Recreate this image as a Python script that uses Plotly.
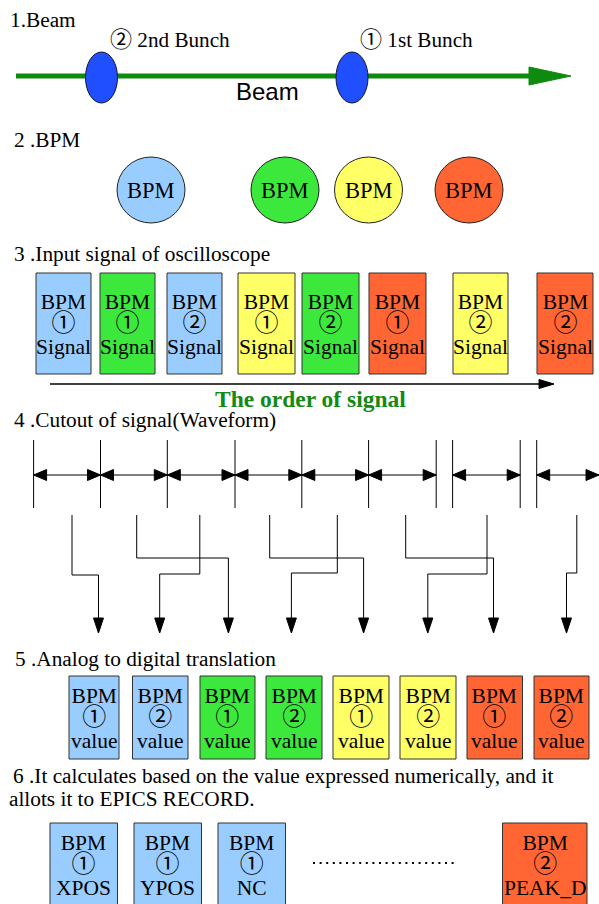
import plotly.graph_objects as go

W, H = 599, 904
SERIF = "Liberation Serif, Times New Roman, Noto Sans CJK JP, serif"
SANS = "Liberation Sans, Arial, sans-serif"
CJK = "Noto Sans CJK JP"

# ---------------- content (labels / colours) ----------------
headings = [
    "1.Beam",
    "2 .BPM",
    "3 .Input signal of oscilloscope",
    "4 .Cutout of signal(Waveform)",
    "5 .Analog to digital translation",
    "6 .It calculates based on the value expressed numerically, and it",
    "allots it to EPICS RECORD.",
]
bunch_marks = ["②", "①"]
bunch_labels = ["2nd Bunch", "1st Bunch"]
beam_label = "Beam"
order_label = "The order of signal"

bpm_palette = ["#99ccff", "#3de83d", "#ffff66", "#ff6633"]

# section 3: input signal order (bpm index, bunch mark)
signal_bpm = [0, 1, 0, 2, 1, 3, 2, 3]
signal_mark = ["①", "①", "②", "①", "②", "①", "②", "②"]
signal_word = "Signal"

# section 5: digital values
value_bpm = [0, 0, 1, 1, 2, 2, 3, 3]
value_mark = ["①", "②", "①", "②", "①", "②", "①", "②"]
value_word = "value"

# section 6: EPICS records
record_bpm = [0, 0, 0, 3]
record_mark = ["①", "①", "①", "②"]
record_name = ["XPOS", "YPOS", "NC", "PEAK_D"]

# ---------------- geometry (pixel layout) ----------------
heading_xy = [(8, 20), (12, 140), (12, 254), (12, 420), (13, 659), (11, 776), (7, 799)]

beam_y, beam_x0, beam_x1, beam_tip = 76, 16, 531, 571
bunch_cx = [101.5, 352]
bunch_label_x = [108, 358]
bpm_circle_cx = [151, 285, 368.5, 469]

sig_x = [(36, 91), (100, 155), (167, 222), (238, 295), (302, 359), (369, 426), (453, 508), (537, 593)]
sig_y = (273, 374)

cut_lines = [33.6, 100.5, 167.3, 235, 301.8, 368.6, 436.2, 452.6, 520.2, 536.7]
cut_segments = [(33.6, 100.5), (100.5, 167.3), (167.3, 235), (235, 301.8), (301.8, 368.6),
                (368.6, 436.2), (452.6, 520.2), (536.7, 599)]
routes = [(72, 575, 98.5), (136.7, 558, 228.4), (199.8, 574, 159.7), (269.7, 558, 363.6),
          (337.3, 573, 291.4), (405.7, 558, 493.5), (487, 574, 427.8), (576.8, 573, 566.5)]

val_x = [(69, 119), (132.5, 188), (200, 255), (266, 322), (333, 389), (400, 456), (467, 522.5), (534, 589)]
val_y = (676, 759)

rec_x = [(50, 117.5), (134, 201.5), (218, 285.5), (502.5, 587)]
rec_y = (823, 910)

fig = go.Figure()
fig.add_trace(go.Scatter(x=[0, W], y=[0, H], mode="markers", marker=dict(opacity=0),
                         hoverinfo="skip", showlegend=False))

shapes = []
ann = []


def text(x, y, s, size=21.5, xanchor="left", font=SERIF, color="black", bold=False):
    if bold:
        s = "<b>" + s + "</b>"
    ann.append(dict(x=x, y=y, xref="x", yref="y", text=s, showarrow=False,
                    xanchor=xanchor, yanchor="middle",
                    font=dict(family=font, size=size, color=color)))


def mark(s, size):
    return f'<span style="font-family:{CJK};font-size:{size}px">{s}</span>'


def big(s, size=21.5):
    return f'<span style="font-size:{size}px">{s}</span>'


def tri(points, color="black"):
    p = "M " + " L ".join(f"{a},{b}" for a, b in points) + " Z"
    shapes.append(dict(type="path", path=p, fillcolor=color, line=dict(color=color, width=1),
                       xref="x", yref="y"))


def box(x0, x1, y0, y1, color, lines, ymid):
    shapes.append(dict(type="rect", x0=x0, x1=x1, y0=y0, y1=y1, fillcolor=color,
                       line=dict(color="#333333", width=1), xref="x", yref="y"))
    s = big(lines[0]) + "<br>" + mark(lines[1], 24) + "<br>" + big(lines[2])
    # base font size sets the line pitch (1.3 x 17.3 = 22.5 px)
    text((x0 + x1) / 2, ymid, s, size=17.3, xanchor="center")


# headings
for s, (x, y) in zip(headings, heading_xy):
    text(x, y, s, size=21.3)

# 1. Beam
shapes.append(dict(type="line", x0=beam_x0, x1=beam_x1, y0=beam_y, y1=beam_y,
                   line=dict(color="#0e8a0e", width=5), xref="x", yref="y"))
tri([(beam_x1 - 2, beam_y - 9), (beam_tip, beam_y), (beam_x1 - 2, beam_y + 9)], color="#0e8a0e")
for cx in bunch_cx:
    shapes.append(dict(type="circle", x0=cx - 16, x1=cx + 16, y0=52, y1=103,
                       fillcolor="#1f4fff", line=dict(color="#111133", width=1), xref="x", yref="y"))
for m, s, x in zip(bunch_marks, bunch_labels, bunch_label_x):
    text(x, 37, mark(m, 22) + " " + s, size=21.2)
text(267, 91, beam_label, size=24, xanchor="center", font=SANS)

# 2. BPM circles
for i, cx in enumerate(bpm_circle_cx):
    shapes.append(dict(type="circle", x0=cx - 34, x1=cx + 34, y0=157, y1=223,
                       fillcolor=bpm_palette[i], line=dict(color="#222222", width=1), xref="x", yref="y"))
    text(cx, 190, "BPM", size=22.5, xanchor="center")

# 3. Input signal
for (x0, x1), b, m in zip(sig_x, signal_bpm, signal_mark):
    box(x0, x1, sig_y[0], sig_y[1], bpm_palette[b], ["BPM", m, signal_word], 324)
shapes.append(dict(type="line", x0=50, x1=541, y0=384, y1=384,
                   line=dict(color="black", width=1.5), xref="x", yref="y"))
tri([(539, 379.5), (554, 384), (539, 388.5)])
text(310, 399, order_label, size=23.5, xanchor="center", color="#138a13", bold=True)

# 4. Cutout of signal
for x in cut_lines:
    shapes.append(dict(type="line", x0=x, x1=x, y0=440, y1=508,
                       line=dict(color="black", width=1), xref="x", yref="y"))
ay = 475
for a, b in cut_segments:
    shapes.append(dict(type="line", x0=a, x1=b, y0=ay, y1=ay,
                       line=dict(color="black", width=1), xref="x", yref="y"))
    tri([(a, ay), (a + 13, ay - 5.5), (a + 13, ay + 5.5)])
    tri([(b, ay), (b - 13, ay - 5.5), (b - 13, ay + 5.5)])
for sx, ty, ex in routes:
    shapes.append(dict(type="path", path=f"M {sx},515 V {ty} H {ex} V 620",
                       line=dict(color="black", width=1), xref="x", yref="y"))
    tri([(ex - 5, 618), (ex + 5, 618), (ex, 633)])

# 5. Analog to digital
for (x0, x1), b, m in zip(val_x, value_bpm, value_mark):
    box(x0, x1, val_y[0], val_y[1], bpm_palette[b], ["BPM", m, value_word], 718)

# 6. EPICS records
for (x0, x1), b, m, n in zip(rec_x, record_bpm, record_mark, record_name):
    box(x0, x1, rec_y[0], rec_y[1], bpm_palette[b], ["BPM", m, n], 865)
shapes.append(dict(type="line", x0=313, x1=457, y0=863, y1=863,
                   line=dict(color="black", width=2, dash="2px,4.6px"), xref="x", yref="y"))

fig.update_layout(
    width=W, height=H, margin=dict(l=0, r=0, t=0, b=0),
    paper_bgcolor="white", plot_bgcolor="white",
    xaxis=dict(range=[0, W], visible=False, fixedrange=True),
    yaxis=dict(range=[H, 0], visible=False, fixedrange=True),
    shapes=shapes, annotations=ann, showlegend=False,
)
fig.write_html("out.html", config={"displayModeBar": False},
               post_script="document.body.style.margin='0px';document.body.style.overflow='hidden';")
